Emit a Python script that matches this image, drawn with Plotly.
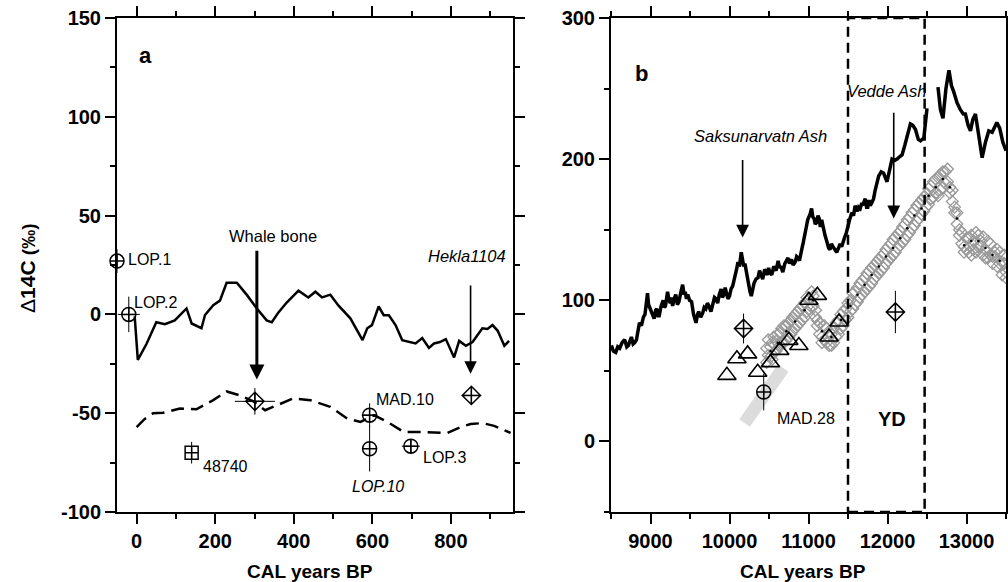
import plotly.graph_objects as go

# ---------------- Panel a data ----------------
a_line_x = [-5, 3, 25, 50, 72, 97, 127, 140, 165, 174, 195, 212, 229, 255, 280, 306, 331, 344, 361, 382,
            412, 437, 455, 472, 493, 514, 544, 575, 587, 599, 616, 629, 642, 659, 676, 693, 710, 727, 744,
            757, 772, 787, 808, 821, 838, 855, 880, 893, 906, 919, 936, 948]
a_line_y = [-1, -23, -15, -4, -5, -3, 3, -4.6, -7, -0.3, 4.7, 7, 16, 16, 10, 3, -3, -4, 1, 6,
            12, 8.6, 11.5, 8.6, 10, 4.4, -2, -13, -7, -5.4, 4, -0.4, -0.4, -5.4, -13, -14, -14.7, -12, -17,
            -14.7, -14, -12.5, -21.8, -13.4, -15.9, -14, -7, -7.4, -5.4, -8.3, -15.9, -13.4]

a_dash_x = [0, 20, 42, 67, 110, 152, 195, 229, 263, 297, 327, 357, 399, 442, 493, 536, 570, 604, 638,
            680, 723, 791, 825, 850, 880, 910, 952]
a_dash_y = [-57, -53, -50, -49.8, -47.6, -48, -43.4, -39, -41, -44, -48.5, -46, -42.5, -43.4, -46.8,
            -52.7, -54.4, -51, -54.4, -59.5, -59.5, -60, -57, -55.5, -55, -56.4, -60]

a_circ_x = [-50, -20, 593, 593, 698]
a_circ_y = [27, 0, -51, -68, -66.7]
a_circ_ey = [6, 9, 6, 11.5, 3.5]
a_circ_ex = [0, 28, 20, 0, 23]

a_sq_x = [140]
a_sq_y = [-70]
a_sq_ey = [5.5]

a_dia_x = [301, 852]
a_dia_y = [-44, -41]
a_dia_ey = [6.7, 4.6]
a_dia_ex = [51, 25]

# ---------------- Panel b data ----------------
b_line_x = [8505, 8530, 8560, 8585, 8610, 8640, 8673, 8700, 8720, 8740, 8758, 8780, 8800, 8822, 8845,
            8860, 8885, 8910, 8930, 8950, 8962, 8975, 8990, 9015, 9046, 9065, 9080, 9095,
            9110, 9135, 9160, 9175, 9190, 9205, 9216, 9235, 9250, 9265, 9280, 9300, 9320, 9340, 9360,
            9385, 9407, 9425, 9440, 9455, 9471, 9495, 9520, 9545, 9576, 9595, 9610, 9635, 9661,
            9680, 9700, 9720, 9740, 9765, 9789, 9810, 9830, 9850, 9870, 9894, 9910, 9930, 9945, 9960,
            9980, 10000, 10020, 10040, 10055, 10070, 10090, 10107, 10125, 10149, 10165, 10180,
            10195, 10212, 10230, 10245, 10260, 10276, 10290, 10310, 10335, 10361, 10380, 10400, 10420,
            10445, 10465, 10480, 10495, 10509, 10535, 10560, 10590, 10616, 10635, 10650, 10675, 10700,
            10720, 10740, 10760, 10785, 10805, 10830, 10850, 10870, 10885, 10900, 10918, 10934, 10955,
            10976, 10990, 11000, 11020, 11039, 11055, 11070, 11085, 11103, 11120, 11135, 11150, 11167,
            11190, 11209, 11225, 11240, 11255, 11272, 11290, 11310, 11335, 11357, 11380, 11400, 11420,
            11442, 11460, 11480, 11495, 11506, 11525, 11548, 11570, 11590, 11605, 11620, 11635, 11654,
            11670, 11690, 11705, 11718, 11735, 11750, 11765, 11781, 11800, 11824, 11840, 11860, 11888,
            11920, 11951, 11994, 12030, 12057, 12090,
            12121, 12160, 12184, 12220, 12248, 12290, 12320, 12354, 12390, 12418, 12460, 12500, None,
            12639, 12670, 12702, 12740, 12778, 12810, 12837, 12880, 12922, 12960, 12986, 13020, 13050,
            13080, 13113, 13150, 13198, 13240, 13282, 13325, 13360, 13384, 13420, 13460, 13500]
b_line_y = [68, 64, 63, 67, 66, 70, 72, 67, 68, 72, 74, 69, 70, 72, 78,
            84, 82, 88, 90, 99, 105, 97, 95, 92, 87, 93, 94, 89,
            89, 96, 100, 95, 96, 102, 106, 100, 98, 102, 96, 101, 104, 97, 99,
            106, 111, 104, 106, 101, 104, 100, 99, 90, 84, 90, 92, 88, 91,
            95, 94, 98, 96, 92, 97, 102, 101, 98, 104, 108, 102, 104, 109, 106,
            101, 103, 108, 110, 113, 117, 122, 127, 124, 134, 128, 124,
            126, 120, 116, 110, 106, 103, 108, 112, 115, 116, 121, 118, 115,
            122, 119, 118, 123, 120, 118, 124, 121, 128, 123, 124, 120, 126,
            128, 130, 126, 129, 125, 127, 131, 130, 128, 134, 137, 141, 149,
            153, 157, 158, 161, 165, 159, 158, 154, 155, 160, 158, 152, 157,
            150, 146, 143, 140, 137, 136, 140, 138, 136, 134, 137, 140, 138,
            143, 145, 148, 152, 155, 158, 162, 160, 167, 165, 163, 166, 165,
            168, 168, 170, 172, 166, 166, 171, 167, 169, 172, 177, 182, 188,
            191, 190, 184, 195, 200, 199,
            200, 202, 203, 210, 217, 225, 224, 221, 214, 213, 215, 236, None,
            251, 235, 229, 250, 263, 252, 248, 240, 235, 232, 232, 224, 220,
            228, 232, 218, 201, 212, 220, 219, 223, 226, 222, 212, 206]

b_band_x = [10190, 10680]
b_band_y = [13, 52]

b_gd_x = [10470, 10490, 10520, 10540, 10560, 10590, 10610, 10640, 10660, 10690, 10720, 10750, 10780,
          10800, 10830, 10860, 10890, 10920, 10950, 10980, 11010, 11040, 11060, 11090, 11110, 11140,
          11170, 11200, 11230, 11260, 11290, 11320, 11350, 11380, 11410, 11440, 11470, 11500, 11530,
          11560, 11590, 11620, 11650, 11680, 11710, 11740, 11770, 11800, 11830, 11860, 11890, 11920,
          11950, 11980, 12010, 12040, 12070, 12100, 12130, 12160, 12190, 12220, 12250, 12280, 12310,
          12340, 12370, 12400, 12430, 12460, 12490, 12520, 12550, 12580, 12610, 12640, 12670, 12700,
          12730, 12760, 12790, 12820, 12850, 12880, 12910, 12940, 12970, 13000, 13030, 13060, 13090,
          13120, 13150, 13180, 13210, 13240, 13270, 13300, 13330, 13360, 13390, 13420, 13450, 13480, 13500]
b_gd_y1 = [66, 72, 60, 70, 74, 64, 76, 68, 80, 70, 82, 74, 86,
           78, 90, 82, 94, 86, 98, 92, 101, 95, 103, 93, 86, 84,
           74, 82, 70, 78, 68, 80, 84, 76, 90, 82, 94, 98, 92,
           105, 97, 109, 102, 114, 106, 119, 110, 123, 115, 127, 119, 131,
           123, 136, 128, 140, 132, 145, 137, 149, 141, 154, 146, 159, 151,
           164, 156, 169, 161, 173, 166, 179, 172, 184, 176, 187, 178, 191,
           183, 193, 180, 178, 166, 162, 150, 148, 138, 144, 134, 146, 136,
           148, 138, 138, 145, 136, 130, 140, 131, 131, 136, 126, 127, 132, 120]
b_gd_y2 = [56, 61, 67, 58, 63, 71, 66, 77, 70, 82, 72, 84, 76,
           88, 80, 92, 84, 96, 88, 102, 94, 106, 96, 88, 82, 76,
           70, 72, 80, 68, 76, 70, 74, 86, 80, 92, 86, 88, 100,
           94, 106, 99, 112, 104, 116, 108, 121, 112, 125, 117, 129, 121,
           133, 126, 138, 130, 143, 134, 147, 139, 152, 143, 157, 148, 162,
           153, 167, 158, 171, 163, 175, 168, 181, 173, 186, 174, 189, 180,
           191, 184, 176, 170, 162, 154, 146, 140, 134, 136, 144, 132, 142,
           134, 146, 142, 132, 130, 142, 132, 126, 134, 124, 134, 118, 126, 116]

b_dot_x = [10520, 10610, 10720, 10830, 10950, 11060, 11170, 11290, 11410, 11530, 11620, 11710, 11800,
           11890, 11980, 12070, 12160, 12250, 12340, 12430, 12520, 12610, 12700, 12790, 12880, 12970,
           13060, 13150, 13240, 13330, 13420]
b_dot_y = [64, 70, 78, 85, 93, 100, 78, 74, 86, 96, 104, 111, 118, 124, 131, 137, 144, 151, 160, 165,
           174, 180, 186, 180, 158, 139, 142, 142, 137, 132, 128]

b_tri_x = [9967, 10094, 10229, 10357, 10518, 10636, 10751, 10878, 11005, 11112, 11260, 11387]
b_tri_y = [46.8, 58.6, 62, 49, 55.8, 64.5, 71.6, 68, 100, 103.5, 74, 84.6]

b_circ_x = [10433]
b_circ_y = [35]
b_circ_ey = [13]

b_dia_x = [10178, 12100]
b_dia_y = [80, 91.7]
b_dia_ey = [10.6, 15]

a_yticks = [150, 100, 50, 0, -50, -100]
a_yticktext = ["150", "100", "50", "0", "-50", "-100"]
a_xticks = [0, 200, 400, 600, 800]
a_xticktext = ["0", "200", "400", "600", "800"]
b_yticks = [0, 100, 200, 300]
b_yticktext = ["0", "100", "200", "300"]
b_xticks = [9000, 10000, 11000, 12000, 13000]
b_xticktext = ["9000", "10000", "11000", "12000", "13000"]

FONT = "Liberation Sans"
W, H = 1008, 582

fig = go.Figure()

# panel a
fig.add_trace(go.Scatter(x=a_line_x, y=a_line_y, mode="lines", line=dict(color="black", width=2.5),
                         xaxis="x", yaxis="y", showlegend=False))
fig.add_trace(go.Scatter(x=a_dash_x, y=a_dash_y, mode="lines", line=dict(color="black", width=2.5, dash="13px,7px"),
                         xaxis="x", yaxis="y", showlegend=False))
fig.add_trace(go.Scatter(x=a_circ_x, y=a_circ_y, mode="markers", cliponaxis=False,
                         marker=dict(symbol="circle-cross-open", size=14, color="black", line=dict(width=1.5)),
                         error_y=dict(type="data", array=a_circ_ey, width=0, thickness=1, color="black"),
                         error_x=dict(type="data", array=a_circ_ex, width=0, thickness=1, color="black"),
                         xaxis="x", yaxis="y", showlegend=False))
fig.add_trace(go.Scatter(x=a_sq_x, y=a_sq_y, mode="markers",
                         marker=dict(symbol="square-cross-open", size=13, color="black", line=dict(width=1.5)),
                         error_y=dict(type="data", array=a_sq_ey, width=0, thickness=1, color="black"),
                         xaxis="x", yaxis="y", showlegend=False))
fig.add_trace(go.Scatter(x=a_dia_x, y=a_dia_y, mode="markers",
                         marker=dict(symbol="diamond-cross-open", size=14, color="black", line=dict(width=1.5)),
                         error_y=dict(type="data", array=a_dia_ey, width=0, thickness=1, color="black"),
                         error_x=dict(type="data", array=a_dia_ex, width=0, thickness=1, color="black"),
                         xaxis="x", yaxis="y", showlegend=False))

# panel b
fig.add_trace(go.Scatter(x=b_band_x, y=b_band_y, mode="lines", line=dict(color="#dcdcdc", width=13),
                         xaxis="x2", yaxis="y2", showlegend=False))
fig.add_trace(go.Scatter(x=b_line_x, y=b_line_y, mode="lines", line=dict(color="black", width=3.5),
                         connectgaps=False, xaxis="x2", yaxis="y2", showlegend=False))
fig.add_trace(go.Scatter(x=b_gd_x + b_gd_x, y=b_gd_y1 + b_gd_y2, mode="markers",
                         marker=dict(symbol="diamond-open", size=9, color="#9a9a9a", line=dict(width=1.3)),
                         xaxis="x2", yaxis="y2", showlegend=False))
fig.add_trace(go.Scatter(x=b_dot_x, y=b_dot_y, mode="markers",
                         marker=dict(symbol="circle", size=2.5, color="black"),
                         xaxis="x2", yaxis="y2", showlegend=False))
fig.add_trace(go.Scatter(x=b_tri_x, y=b_tri_y, mode="markers",
                         marker=dict(symbol="triangle-up-open", size=16, color="black", line=dict(width=1.6)),
                         xaxis="x2", yaxis="y2", showlegend=False))
fig.add_trace(go.Scatter(x=b_circ_x, y=b_circ_y, mode="markers",
                         marker=dict(symbol="circle-cross-open", size=14, color="black", line=dict(width=1.5)),
                         error_y=dict(type="data", array=b_circ_ey, width=0, thickness=1, color="black"),
                         xaxis="x2", yaxis="y2", showlegend=False))
fig.add_trace(go.Scatter(x=b_dia_x, y=b_dia_y, mode="markers",
                         marker=dict(symbol="diamond-cross-open", size=14, color="black", line=dict(width=1.5)),
                         error_y=dict(type="data", array=b_dia_ey, width=0, thickness=1, color="black"),
                         xaxis="x2", yaxis="y2", showlegend=False))

tickfont = dict(family=FONT, size=20, color="black", weight="bold")
common = dict(showline=True, linewidth=2, linecolor="black", mirror="ticks", ticks="outside",
              tickwidth=2, ticklen=10, tickcolor="black", showgrid=False, zeroline=False,
              tickfont=tickfont, automargin=False)

xa_dom = [117 / W, 513 / W]
xb_dom = [611 / W, 1006 / W]
y_dom = [1 - 512 / H, 1 - 18 / H]

fig.update_layout(
    width=W, height=H, margin=dict(l=0, r=0, t=0, b=0),
    paper_bgcolor="white", plot_bgcolor="white",
    font=dict(family=FONT, color="black"),
    xaxis=dict(domain=xa_dom, range=[-50, 958], anchor="y", tickvals=a_xticks, ticktext=a_xticktext,
               minor=dict(dtick=100, tick0=0, ticklen=5, tickwidth=1.5, ticks="outside", tickcolor="black"),
               **common),
    yaxis=dict(domain=y_dom, range=[-100, 150], anchor="x", tickvals=a_yticks, ticktext=a_yticktext,
               minor=dict(dtick=25, tick0=0, ticklen=5, tickwidth=1.5, ticks="outside", tickcolor="black"),
               **common),
    xaxis2=dict(domain=xb_dom, range=[8500, 13500], anchor="y2", tickvals=b_xticks, ticktext=b_xticktext,
                minor=dict(dtick=500, tick0=8500, ticklen=5, tickwidth=1.5, ticks="outside", tickcolor="black"),
                **common),
    yaxis2=dict(domain=y_dom, range=[-50, 300], anchor="x2", tickvals=b_yticks, ticktext=b_yticktext,
                minor=dict(dtick=50, tick0=0, ticklen=5, tickwidth=1.5, ticks="outside", tickcolor="black"),
                **common),
)

# YD box
fig.add_shape(type="rect", xref="x2", yref="y2", x0=11500, x1=12470, y0=-50, y1=300,
              line=dict(color="black", width=2.5, dash="10px,6px"), layer="above")

ann = []
def txt(text, x, y, xref="x", yref="y", size=16, xanchor="center", yanchor="middle", **kw):
    ann.append(dict(text=text, x=x, y=y, xref=xref, yref=yref, showarrow=False,
                    font=dict(family=FONT, size=size, color="black"), xanchor=xanchor, yanchor=yanchor, **kw))

def arrow(x, y0, y1, xref, yref, width, size):
    ann.append(dict(text="", x=x, y=y1, ax=x, ay=y0, xref=xref, yref=yref, axref=xref, ayref=yref,
                    showarrow=True, arrowhead=2, arrowwidth=width, arrowsize=size, arrowcolor="black",
                    standoff=0, startstandoff=0))

# panel a labels
txt("<b>a</b>", 22, 131, size=22)
txt("LOP.1", -26, 28, xanchor="left")
txt("LOP.2", -11, 6, xanchor="left")
txt("48740", 165, -77, xanchor="left")
txt("MAD.10", 603, -43, xanchor="left")
txt("<i>LOP.10</i>", 615, -87)
txt("LOP.3", 725, -72.6, xanchor="left")
txt("Whale bone", 347, 39.5, size=16.5)
txt("<i>Hekla1104</i>", 842, 29.5, size=16.5)
arrow(306, 33, -33, "x", "y", 3, 1.0)
arrow(850, 15.4, -30, "x", "y", 1.6, 1.55)

# panel b labels
txt("<b>b</b>", 8885, 261, xref="x2", yref="y2", size=22)
txt("<i>Saksunarvatn Ash</i>", 10395, 216.5, xref="x2", yref="y2", size=16.5)
txt("<i>Vedde Ash</i>", 11994, 248, xref="x2", yref="y2", size=16.5)
txt("MAD.28", 10572, 16, xref="x2", yref="y2", xanchor="left")
txt("<b>YD</b>", 12057, 16, xref="x2", yref="y2", size=20)
arrow(10166, 200.5, 144.5, "x2", "y2", 1.6, 1.6)
arrow(12079, 234, 158, "x2", "y2", 1.6, 1.6)

# axis titles
txt("<b>CAL years BP</b>", 310 / W, 1 - 571 / H, xref="paper", yref="paper", size=19)
txt("<b>CAL years BP</b>", 803 / W, 1 - 571 / H, xref="paper", yref="paper", size=19)
txt('Δ<b>14C</b><b><span style="font-size:19px"> (‰)</span></b>', 28 / W, 1 - 268 / H,
    xref="paper", yref="paper", size=21, textangle=-90)

fig.update_layout(annotations=ann)
fig.write_html("out.html", config={"displayModeBar": False},
               post_script="document.body.style.margin='0';document.body.style.overflow='hidden';")
